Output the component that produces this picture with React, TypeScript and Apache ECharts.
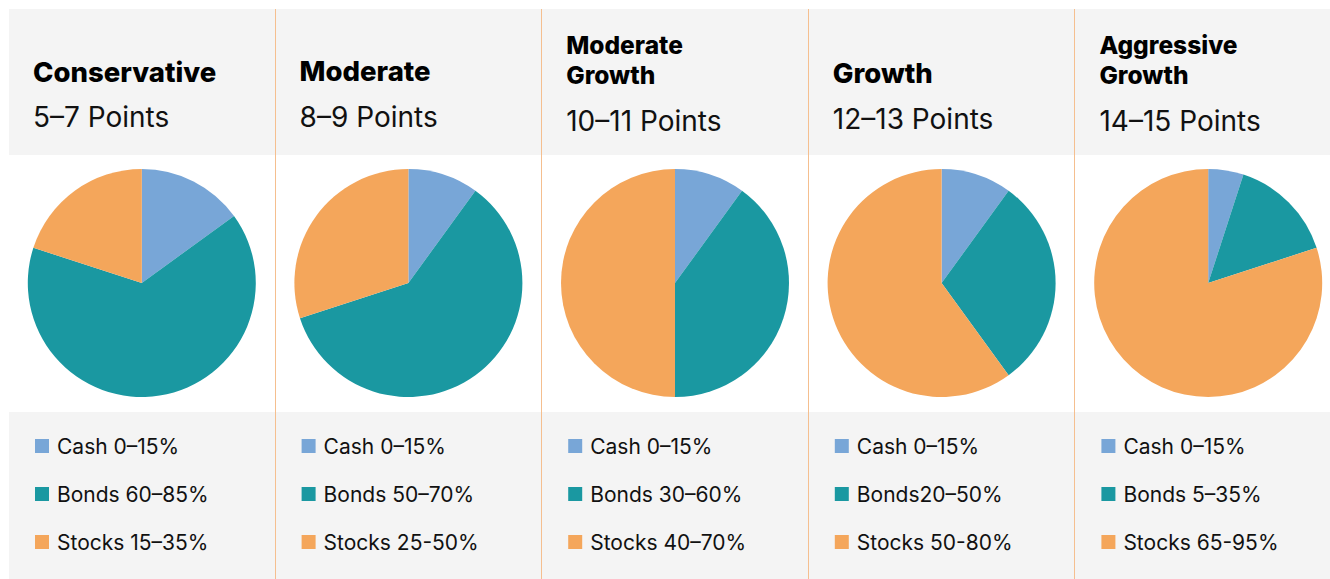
import React, { useEffect, useRef } from "react";
import * as echarts from "echarts";

const profileTitles = ["Conservative", "Moderate", "Moderate\nGrowth", "Growth", "Aggressive\nGrowth"];
const pointRanges = ["5–7 Points", "8–9 Points", "10–11 Points", "12–13 Points", "14–15 Points"];
const cashValues = [15, 10, 10, 10, 5];
const bondValues = [65, 60, 40, 30, 15];
const stockValues = [20, 30, 50, 60, 80];
const cashLabels = ["Cash 0–15%", "Cash 0–15%", "Cash 0–15%", "Cash 0–15%", "Cash 0–15%"];
const bondLabels = ["Bonds 60–85%", "Bonds 50–70%", "Bonds 30–60%", "Bonds20–50%", "Bonds 5–35%"];
const stockLabels = ["Stocks 15–35%", "Stocks 25-50%", "Stocks 40–70%", "Stocks 50-80%", "Stocks 65-95%"];

const CASH = "#78a6d7";
const BOND = "#1a98a1";
const STOCK = "#f4a65b";
const GRAY = "#f4f4f4";
const DIVIDER = "#f5bf8f";
const FONT = "Inter, 'Noto Sans', sans-serif";

export default function App() {
  const ref = useRef<HTMLDivElement>(null);
  useEffect(() => {
    document.body.style.margin = "0";
    if (!ref.current) return;
    const chart = echarts.init(ref.current, undefined, { renderer: "svg" });
    const left0 = 9;
    const colW = 266.6;
    const pieCY = 283;
    const titleCenters = [72, 71, 60, 73, 60];
    const pointCenters = [117, 117, 121, 119, 121];

    const graphics: any[] = [
      { type: "rect", z: -10, shape: { x: left0, y: 9, width: 1330 - left0, height: 146 }, style: { fill: GRAY } },
      { type: "rect", z: -10, shape: { x: left0, y: 412, width: 1330 - left0, height: 167 }, style: { fill: GRAY } },
    ];
    for (let i = 1; i < 5; i++) {
      const x = Math.round(left0 + colW * i) - 0.5;
      graphics.push({
        type: "line",
        z: 50,
        shape: { x1: x, y1: 9, x2: x, y2: 579 },
        style: { stroke: DIVIDER, lineWidth: 1 },
      });
    }
    profileTitles.forEach((t, i) => {
      const tx = left0 + colW * i + 24;
      const multi = t.indexOf("\n") >= 0;
      graphics.push({
        type: "text",
        z: 100,
        x: tx,
        y: titleCenters[i],
        style: {
          text: t,
          fontFamily: FONT,
          fontWeight: 800,
          fontSize: multi ? 24.5 : 27.5,
          lineHeight: 30,
          fill: "#000",
          verticalAlign: "middle",
          align: "left",
        },
      });
      graphics.push({
        type: "text",
        z: 100,
        x: tx,
        y: pointCenters[i],
        style: {
          text: pointRanges[i],
          fontFamily: FONT,
          fontWeight: 400,
          fontSize: 28,
          lineHeight: 28,
          fill: "#111",
          verticalAlign: "middle",
          align: "left",
        },
      });
    });

    const series = profileTitles.map((t, i) => ({
      type: "pie",
      name: t.replace("\n", " "),
      center: [left0 + colW * i + colW / 2 - 0.5, pieCY],
      radius: 114,
      startAngle: 90,
      clockwise: true,
      silent: true,
      label: { show: false },
      labelLine: { show: false },
      emphasis: { disabled: true },
      itemStyle: { borderWidth: 0 },
      data: [
        { name: cashLabels[i], value: cashValues[i], itemStyle: { color: CASH } },
        { name: bondLabels[i], value: bondValues[i], itemStyle: { color: BOND } },
        { name: stockLabels[i], value: stockValues[i], itemStyle: { color: STOCK } },
      ],
    }));

    const legends = profileTitles.map((_, i) => ({
      orient: "vertical",
      left: left0 + colW * i + 26,
      top: 435,
      padding: 0,
      itemWidth: 14,
      itemHeight: 14,
      itemGap: 26,
      icon: "rect",
      selectedMode: false,
      data: [cashLabels[i], bondLabels[i], stockLabels[i]],
      textStyle: { fontFamily: FONT, fontSize: 21, color: "#111", lineHeight: 22, padding: [0, 0, 0, 3] },
    }));

    chart.setOption({
      animation: false,
      backgroundColor: "#fff",
      tooltip: { show: false },
      legend: legends,
      series,
      graphic: graphics,
    });
    return () => chart.dispose();
  }, []);
  return <div ref={ref} style={{ width: 1330, height: 579 }} />;
}
